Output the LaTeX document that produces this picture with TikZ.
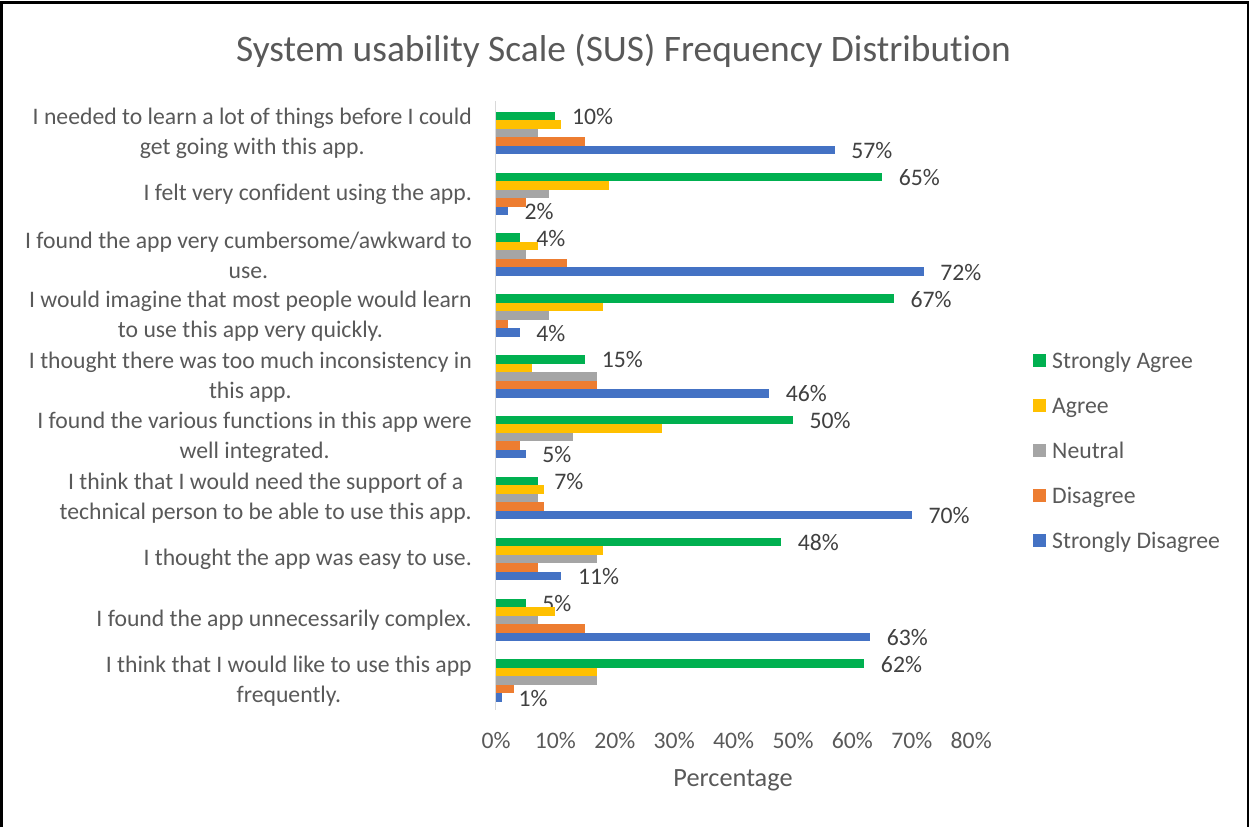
\documentclass[tikz,border=0pt]{standalone}
\usepackage{fontspec}
\setmainfont{Carlito}[Ligatures=NoCommon]
\definecolor{csa}{HTML}{00B050}
\definecolor{cag}{HTML}{FFC000}
\definecolor{cne}{HTML}{A5A5A5}
\definecolor{cdi}{HTML}{ED7D31}
\definecolor{csd}{HTML}{4472C4}
\definecolor{txt}{HTML}{595959}
\definecolor{dlab}{HTML}{404040}
\definecolor{axisgray}{HTML}{D9D9D9}
\colorlet{c0}{csa}
\colorlet{c1}{cag}
\colorlet{c2}{cne}
\colorlet{c3}{cdi}
\colorlet{c4}{csd}
\newcommand{\lblfont}{\fontsize{23.7}{30}\selectfont}
\begin{document}
\begin{tikzpicture}[x=1pt,y=-1pt,
  bar/.style={inner sep=0pt,outer sep=0pt,minimum height=8.5pt,anchor=north west},
  catlabel/.style={anchor=east,align=center,inner sep=0pt,text=txt,font=\lblfont},
  datalabel/.style={anchor=base west,inner sep=0pt,text=dlab,font=\lblfont},
  ticklabel/.style={anchor=base,inner sep=0pt,text=txt,font=\lblfont},
  legendbox/.style={minimum size=13pt,inner sep=0pt},
  legendtext/.style={anchor=base west,inner sep=0pt,text=txt,font=\lblfont},
  frame/.style={draw=black,line width=2.5pt}]
\useasboundingbox (0,0) rectangle (1249,827);
% outer frame
\draw[frame] (1.25,827) |- (1247.75,2.5) -- (1247.75,827);
% title
\node[anchor=base,inner sep=0pt,text=txt,font=\fontsize{37.4}{40}\selectfont]
  (title) at (623.5,61) {System usability Scale (SUS) Frequency Distribution};
% value axis line
\coordinate (axtop) at (495.5,101);
\coordinate (axbot) at (495.5,710);
\draw[axisgray,line width=1.5pt] (axtop) -- (axbot);
% bars: each group lists Strongly Agree, Agree, Neutral, Disagree, Strongly Disagree
\foreach \vals [count=\g from 0] in {
  {10,11,7,15,57},{65,19,9,5,2},{4,7,5,12,72},{67,18,9,2,4},{15,6,17,17,46},
  {50,28,13,4,5},{7,8,7,8,70},{48,18,17,7,11},{5,10,7,15,63},{62,17,17,3,1}}{
  \foreach \v [count=\j from 0] in \vals {
    \node[bar,fill=c\j,minimum width={5.94pt*\v}] (b\g-\j)
      at (496,{111.7+60.85*\g+8.5*\j}) {};
    \ifnum\j=0
      \node[datalabel] (l\g-\j) at ([xshift=16.5pt,yshift=-8.5pt]b\g-\j.east) {\v\%};
    \fi
    \ifnum\j=4
      \node[datalabel] (l\g-\j) at ([xshift=16.5pt,yshift=-8.5pt]b\g-\j.east) {\v\%};
    \fi
  }
}
% category labels
\foreach \txt [count=\g from 0] in {
  {I needed to learn a lot of things before I could\\get going with this app.},
  {I felt very confident using the app.},
  {I found the app very cumbersome/awkward to\\use.},
  {I would imagine that most people would learn\\to use this app very quickly.},
  {I thought there was too much inconsistency in\\this app.},
  {I found the various functions in this app were\\well integrated.},
  {I think that I would need the support of a\\technical person to be able to use this app.},
  {I thought the app was easy to use.},
  {I found the app unnecessarily complex.},
  {I think that I would like to use this app\\frequently.}}{
  \node[catlabel] (cat\g) at (472,{133.5+60.85*\g}) {\txt};
}
% tick labels
\foreach \t in {0,...,8}{
  \node[ticklabel] (tick\t) at ({496+59.4*\t},748.5) {\the\numexpr\t*10\relax\%};
}
\node[anchor=base,inner sep=0pt,text=txt,font=\fontsize{26.3}{30}\selectfont]
  (xtitle) at (733,786.5) {Percentage};
% legend
\foreach \name [count=\j from 0] in {Strongly Agree,Agree,Neutral,Disagree,Strongly Disagree}{
  \node[legendbox,fill=c\j] (key\j) at (1039,{360.3+45*\j}) {};
  \node[legendtext] (keytext\j) at (1052,{368+45*\j}) {\name};
}
\end{tikzpicture}
\end{document}
